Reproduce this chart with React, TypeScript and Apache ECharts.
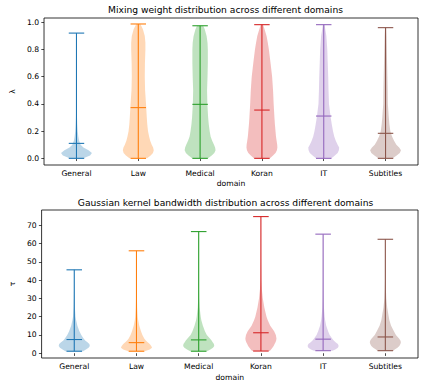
import React, { useEffect, useRef } from 'react';
import * as echarts from 'echarts';

const domains = ['General', 'Law', 'Medical', 'Koran', 'IT', 'Subtitles'];
const colors = ['#1f77b4', '#ff7f0e', '#2ca02c', '#d62728', '#9467bd', '#8c564b'];

// Mixing weight (lambda)
const lambdaMin = [0, 0, 0, 0, 0, 0];
const lambdaMax = [0.921, 0.988, 0.975, 0.983, 0.983, 0.961];
const lambdaMedian = [0.11, 0.373, 0.397, 0.355, 0.311, 0.184];
const lambdaLevels = [0, 0.02, 0.04, 0.06, 0.08, 0.1, 0.13, 0.16, 0.2, 0.25, 0.3, 0.4, 0.5, 0.6, 0.7, 0.8, 0.85, 0.9, 0.95, 1.0];
const lambdaDensity = [
  [0.45, 0.88, 1.0, 0.78, 0.45, 0.27, 0.17, 0.12, 0.08, 0.05, 0.035, 0.02, 0.015, 0.01, 0.008, 0.006, 0.005, 0.004, 0.003, 0.003],
  [0.57, 0.8, 0.95, 1.0, 0.96, 0.87, 0.77, 0.7, 0.63, 0.58, 0.55, 0.5, 0.44, 0.42, 0.43, 0.46, 0.46, 0.42, 0.3, 0.08],
  [0.52, 0.75, 0.92, 1.0, 0.97, 0.9, 0.78, 0.68, 0.62, 0.56, 0.52, 0.47, 0.45, 0.48, 0.5, 0.5, 0.48, 0.42, 0.3, 0.1],
  [0.52, 0.72, 0.88, 0.97, 1.0, 0.99, 0.95, 0.91, 0.88, 0.84, 0.81, 0.76, 0.72, 0.66, 0.56, 0.45, 0.38, 0.3, 0.17, 0.03],
  [0.5, 0.72, 0.9, 0.98, 1.0, 0.9, 0.78, 0.68, 0.6, 0.52, 0.45, 0.34, 0.31, 0.29, 0.26, 0.23, 0.2, 0.17, 0.1, 0.03],
  [0.47, 0.72, 0.92, 1.0, 0.88, 0.7, 0.55, 0.42, 0.31, 0.25, 0.21, 0.15, 0.14, 0.12, 0.1, 0.08, 0.07, 0.06, 0.04, 0.02],
];
const lambdaTicks = [0, 0.2, 0.4, 0.6, 0.8, 1.0];

// Gaussian kernel bandwidth (tau)
const tauMin = [1.1, 1.1, 1.1, 1.2, 1.4, 1.4];
const tauMax = [45.6, 56.0, 66.5, 74.7, 65.1, 62.3];
const tauMedian = [7.5, 5.8, 7.3, 11.2, 7.7, 8.9];
const tauLevels = [0, 1, 2, 3, 4, 5, 6, 7, 8, 10, 12, 15, 18, 20, 25, 30, 35, 40, 50, 60, 70, 80];
const tauDensity = [
  [0.4, 0.55, 0.75, 0.92, 1.0, 0.97, 0.85, 0.7, 0.6, 0.45, 0.33, 0.2, 0.12, 0.08, 0.04, 0.025, 0.015, 0.01, 0.005, 0.004, 0.003, 0.003],
  [0.4, 0.5, 0.85, 1.0, 0.95, 0.85, 0.72, 0.6, 0.5, 0.38, 0.29, 0.18, 0.11, 0.08, 0.045, 0.03, 0.02, 0.015, 0.01, 0.005, 0.004, 0.003],
  [0.4, 0.52, 0.75, 0.92, 1.0, 0.98, 0.9, 0.83, 0.72, 0.52, 0.4, 0.27, 0.17, 0.13, 0.06, 0.03, 0.02, 0.015, 0.01, 0.007, 0.005, 0.004],
  [0.45, 0.55, 0.65, 0.74, 0.82, 0.88, 0.94, 0.98, 1.0, 0.96, 0.85, 0.6, 0.44, 0.36, 0.22, 0.12, 0.06, 0.03, 0.015, 0.01, 0.007, 0.005],
  [0.4, 0.48, 0.78, 0.95, 1.0, 0.95, 0.8, 0.68, 0.58, 0.42, 0.32, 0.2, 0.13, 0.1, 0.05, 0.03, 0.02, 0.015, 0.01, 0.006, 0.005, 0.004],
  [0.4, 0.45, 0.6, 0.78, 0.9, 0.97, 1.0, 0.97, 0.88, 0.68, 0.55, 0.37, 0.26, 0.22, 0.12, 0.06, 0.035, 0.02, 0.012, 0.008, 0.006, 0.005],
];
const tauTicks = [0, 10, 20, 30, 40, 50, 60, 70];

const FONT = 'DejaVu Sans';
const TICK_FS = 7.64;
const TITLE_FS = 9.17;

function makeViolinSeries(
  axisIndex: number,
  mins: number[],
  maxs: number[],
  meds: number[],
  levels: number[],
  dens: number[][]
) {
  return {
    type: 'custom',
    xAxisIndex: axisIndex,
    yAxisIndex: axisIndex,
    data: domains.map((_, i) => [i + 1, mins[i], maxs[i]]),
    encode: { x: 0, y: [1, 2] },
    renderItem: (params: any, api: any) => {
      const i = params.dataIndex;
      const pos = i + 1;
      const lo = mins[i];
      const hi = maxs[i];
      const w = dens[i];
      const widthAt = (v: number) => {
        for (let k = 0; k < levels.length - 1; k++) {
          if (v >= levels[k] && v <= levels[k + 1]) {
            const t = (v - levels[k]) / (levels[k + 1] - levels[k]);
            return w[k] + (w[k + 1] - w[k]) * t;
          }
        }
        return w[w.length - 1];
      };
      const vs = [lo, ...levels.filter((l) => l > lo && l < hi), hi];
      const left = vs.map((v) => api.coord([pos - 0.25 * widthAt(v), v]));
      const right = vs
        .slice()
        .reverse()
        .map((v) => api.coord([pos + 0.25 * widthAt(v), v]));
      const color = colors[i];
      const p = (x: number, y: number) => api.coord([x, y]);
      const seg = (a: number[], b: number[]) => ({
        type: 'line',
        shape: { x1: a[0], y1: a[1], x2: b[0], y2: b[1] },
        style: { stroke: color, lineWidth: 1.1 },
      });
      const cap = 0.125;
      return {
        type: 'group',
        children: [
          {
            type: 'polygon',
            shape: { points: [...left, ...right] },
            style: { fill: color, opacity: 0.3 },
          },
          seg(p(pos, lo), p(pos, hi)),
          seg(p(pos - cap, lo), p(pos + cap, lo)),
          seg(p(pos - cap, hi), p(pos + cap, hi)),
          seg(p(pos - cap, meds[i]), p(pos + cap, meds[i])),
        ],
      };
    },
  };
}

function xAxisDef(gridIndex: number, gap: number) {
  return {
    type: 'value',
    gridIndex,
    min: 0.475,
    max: 6.525,
    name: 'domain',
    nameLocation: 'middle',
    nameGap: gap,
    nameTextStyle: { fontFamily: FONT, fontSize: TICK_FS, color: '#000' },
    splitLine: { show: false },
    axisLine: { show: false },
    axisTick: {
      show: true,
      length: 2.7,
      customValues: [1, 2, 3, 4, 5, 6],
      lineStyle: { color: '#000', width: 0.7 },
    },
    axisLabel: {
      customValues: [1, 2, 3, 4, 5, 6],
      formatter: (v: number) => domains[Math.round(v) - 1] ?? '',
      fontFamily: FONT,
      fontSize: TICK_FS,
      color: '#000',
      margin: 4.5,
    },
  };
}

function yAxisDef(gridIndex: number, name: string, min: number, max: number, ticks: number[], fmt: (v: number) => string) {
  return {
    type: 'value',
    gridIndex,
    min,
    max,
    name,
    nameLocation: 'middle',
    nameRotate: 90,
    nameGap: 19,
    nameTextStyle: { fontFamily: FONT, fontSize: TICK_FS, color: '#000' },
    splitLine: { show: false },
    axisLine: { show: false },
    axisTick: {
      show: true,
      length: 2.7,
      customValues: ticks,
      lineStyle: { color: '#000', width: 0.7 },
    },
    axisLabel: {
      customValues: ticks,
      formatter: fmt,
      fontFamily: FONT,
      fontSize: TICK_FS,
      color: '#000',
      margin: 5,
    },
  };
}

export default function App() {
  const ref = useRef<HTMLDivElement>(null);
  useEffect(() => {
    if (!ref.current) return;
    const chart = echarts.init(ref.current, null, { renderer: 'svg' });
    chart.setOption({
      animation: false,
      backgroundColor: '#fff',
      graphic: [
        {
          type: 'text',
          x: 225.5,
          y: 9.5,
          style: {
            text: 'Mixing weight distribution across different domains',
            fontFamily: FONT,
            fontSize: TITLE_FS,
            fill: '#000',
            align: 'center',
            verticalAlign: 'middle',
          },
        },
        {
          type: 'text',
          x: 225.5,
          y: 202.3,
          style: {
            text: 'Gaussian kernel bandwidth distribution across different domains',
            fontFamily: FONT,
            fontSize: TITLE_FS,
            fill: '#000',
            align: 'center',
            verticalAlign: 'middle',
          },
        },
      ],
      grid: [
        { left: 33, top: 18, width: 385, height: 147, show: true, borderColor: '#000', borderWidth: 0.8 },
        { left: 33, top: 210, width: 385, height: 148, show: true, borderColor: '#000', borderWidth: 0.8 },
      ],
      xAxis: [xAxisDef(0, 14), xAxisDef(1, 15)],
      yAxis: [
        yAxisDef(0, 'λ', -0.049, 1.032, lambdaTicks, (v: number) => v.toFixed(1)),
        yAxisDef(1, 'τ', -2.6, 78.3, tauTicks, (v: number) => String(Math.round(v))),
      ],
      series: [
        makeViolinSeries(0, lambdaMin, lambdaMax, lambdaMedian, lambdaLevels, lambdaDensity),
        makeViolinSeries(1, tauMin, tauMax, tauMedian, tauLevels, tauDensity),
      ],
    });
    return () => chart.dispose();
  }, []);
  return <div ref={ref} style={{ position: 'fixed', left: 0, top: 0, width: 425, height: 387 }} />;
}
